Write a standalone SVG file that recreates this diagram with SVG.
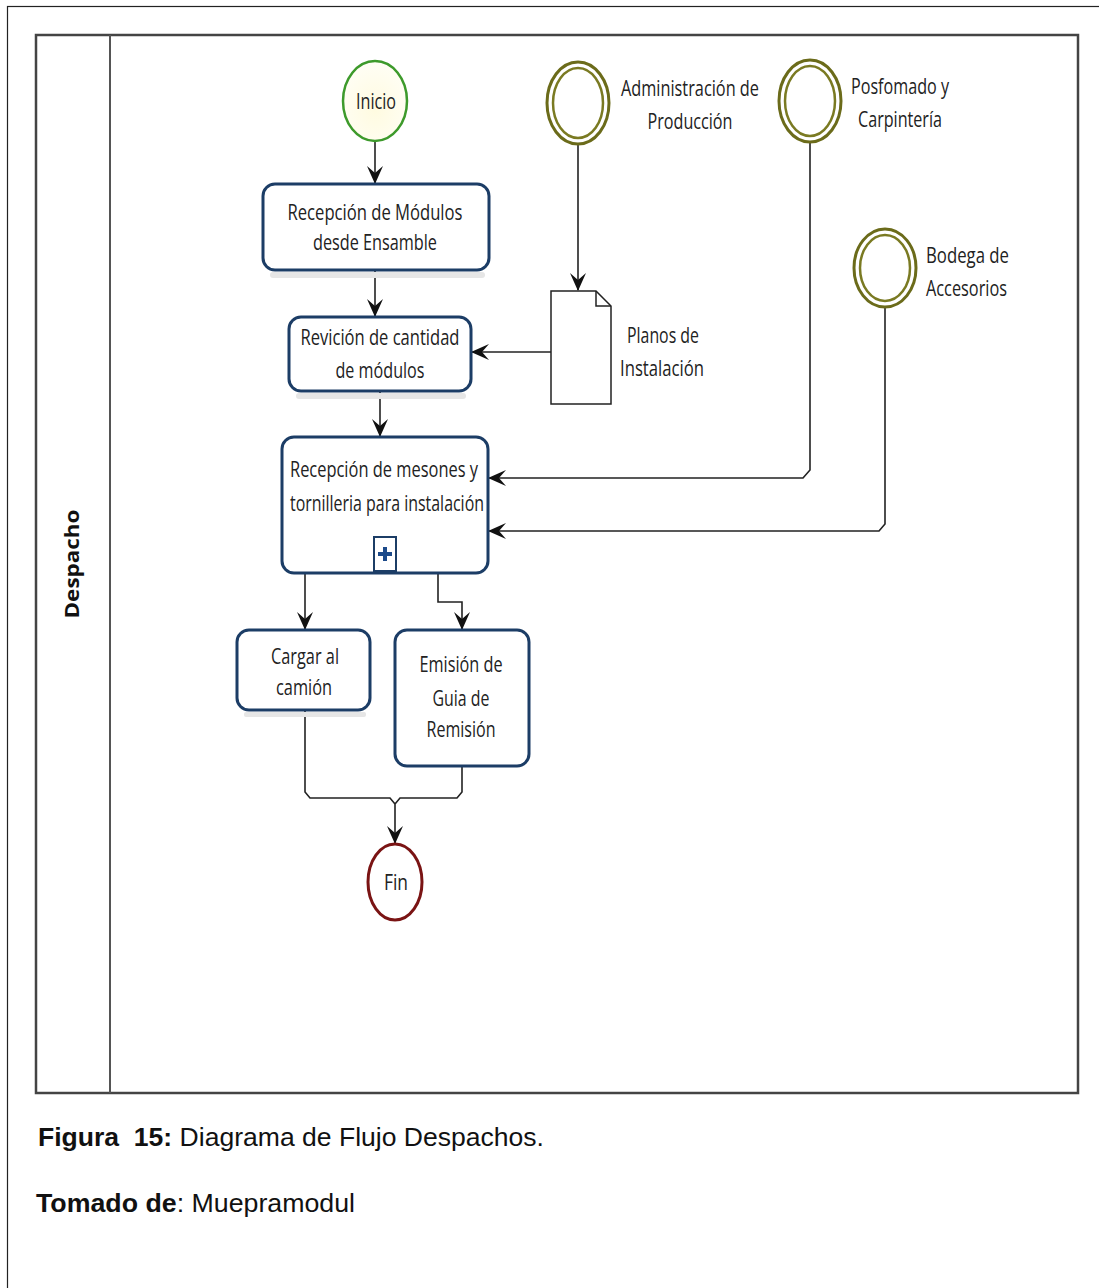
<svg xmlns="http://www.w3.org/2000/svg" width="1099" height="1288" viewBox="0 0 1099 1288">
<style>
.t{font-family:"Open Sans","DejaVu Sans",sans-serif;font-size:21px;fill:#222;text-anchor:middle}
.tl{font-family:"Open Sans","DejaVu Sans",sans-serif;font-size:21px;fill:#222}
.task{fill:#fff;stroke:#1c3d66;stroke-width:3}
.shadow{fill:#e6e6e6}
.ext{fill:#fff;stroke:#6b6b1a;stroke-width:3}
.ext2{fill:none;stroke:#7a7a22;stroke-width:2.5}
.conn{fill:none;stroke:#222;stroke-width:1.6}
.cap{font-family:"Liberation Sans",Arial,sans-serif;font-size:26px;fill:#111}
</style>
<defs>
<marker id="arr" viewBox="0 0 18 16" refX="17" refY="8" markerWidth="18" markerHeight="16" markerUnits="userSpaceOnUse" orient="auto">
<path d="M0,0 L18,8 L0,16 L7,8 Z" fill="#111"/>
</marker>
<radialGradient id="gy" cx="0.5" cy="0.6" r="0.6">
<stop offset="0" stop-color="#fffbe0"/><stop offset="1" stop-color="#fffef5"/>
</radialGradient>
</defs>
<rect x="0" y="0" width="1099" height="1288" fill="#fff"/>
<rect x="7.5" y="6.5" width="1095" height="1290" fill="none" stroke="#222" stroke-width="1.2"/>
<g id="lane">
<rect x="36" y="35" width="1042" height="1058" fill="#fff" stroke="#444" stroke-width="2.5"/>
<line x1="110" y1="35" x2="110" y2="1093" stroke="#555" stroke-width="2"/>
<text x="0" y="0" transform="translate(79,564) rotate(-90)" font-family="'Open Sans','DejaVu Sans',sans-serif" font-weight="bold" font-size="19" text-anchor="middle" fill="#111" textLength="109" lengthAdjust="spacingAndGlyphs">Despacho</text>
</g>
<g id="connectors">
<path class="conn" d="M375,141 V183" marker-end="url(#arr)"/>
<path class="conn" d="M375,271 V316" marker-end="url(#arr)"/>
<path class="conn" d="M380,392 V436" marker-end="url(#arr)"/>
<path class="conn" d="M578,144 V290" marker-end="url(#arr)"/>
<path class="conn" d="M551,352 H472" marker-end="url(#arr)"/>
<path class="conn" d="M810,142 V470 L803,478 H489" marker-end="url(#arr)"/>
<path class="conn" d="M885,307 V524 L879,531 H489" marker-end="url(#arr)"/>
<path class="conn" d="M305,574 V629" marker-end="url(#arr)"/>
<path class="conn" d="M438,574 V602 H462 V629" marker-end="url(#arr)"/>
<path class="conn" d="M305,711 V792 L310,798 H390 L395,804"/>
<path class="conn" d="M462,767 V792 L457,798 H400 L395,804 V843" marker-end="url(#arr)"/>
</g>
<g id="inicio">
<ellipse cx="375" cy="101" rx="32" ry="40" fill="url(#gy)" stroke="#3d9a2b" stroke-width="2.5"/>
<text class="t" x="376" y="109" textLength="40" lengthAdjust="spacingAndGlyphs">Inicio</text>
</g>
<g id="task1">
<rect class="shadow" x="270" y="272" width="215" height="6" rx="3"/>
<rect class="task" x="263" y="184" width="226" height="86" rx="12"/>
<text class="t" x="375" y="220" textLength="175" lengthAdjust="spacingAndGlyphs">Recepción de Módulos</text>
<text class="t" x="375" y="250" textLength="124" lengthAdjust="spacingAndGlyphs">desde Ensamble</text>
</g>
<g id="task2">
<rect class="shadow" x="296" y="393" width="170" height="6" rx="3"/>
<rect class="task" x="289" y="317" width="182" height="74" rx="12"/>
<text class="t" x="380" y="345" textLength="159" lengthAdjust="spacingAndGlyphs">Revición de cantidad</text>
<text class="t" x="380" y="378" textLength="89" lengthAdjust="spacingAndGlyphs">de módulos</text>
</g>
<g id="task3">
<rect class="task" x="282" y="437" width="206" height="136" rx="12"/>
<text class="t" x="384" y="477" textLength="188" lengthAdjust="spacingAndGlyphs">Recepción de mesones y</text>
<text class="t" x="387" y="511" textLength="194" lengthAdjust="spacingAndGlyphs">tornilleria  para instalación</text>
<rect x="374" y="537" width="22" height="34" fill="#fff" stroke="#1c3d66" stroke-width="2"/>
<path d="M385,547 V561 M378,554 H392" stroke="#1c4a8a" stroke-width="4"/>
</g>
<g id="cargar">
<rect class="shadow" x="244" y="712" width="122" height="5" rx="2"/>
<rect class="task" x="237" y="630" width="133" height="80" rx="12"/>
<text class="t" x="305" y="664" textLength="68" lengthAdjust="spacingAndGlyphs">Cargar al</text>
<text class="t" x="304" y="695" textLength="56" lengthAdjust="spacingAndGlyphs">camión</text>
</g>
<g id="emision">
<rect class="task" x="395" y="630" width="134" height="136" rx="12"/>
<text class="t" x="461" y="672" textLength="83" lengthAdjust="spacingAndGlyphs">Emisión de</text>
<text class="t" x="461" y="706" textLength="57" lengthAdjust="spacingAndGlyphs">Guia de</text>
<text class="t" x="461" y="737" textLength="69" lengthAdjust="spacingAndGlyphs">Remisión</text>
</g>
<g id="fin">
<ellipse cx="395" cy="882" rx="27" ry="38" fill="#fff" stroke="#7a1414" stroke-width="3"/>
<text class="t" x="396" y="890" textLength="24" lengthAdjust="spacingAndGlyphs">Fin</text>
</g>
<g id="admin">
<ellipse class="ext" cx="578" cy="103" rx="31" ry="41"/>
<ellipse class="ext2" cx="578" cy="103" rx="25" ry="35"/>
<text class="t" x="690" y="96" textLength="138" lengthAdjust="spacingAndGlyphs">Administración de</text>
<text class="t" x="690" y="129" textLength="85" lengthAdjust="spacingAndGlyphs">Producción</text>
</g>
<g id="posfomado">
<ellipse class="ext" cx="810" cy="101" rx="31" ry="41"/>
<ellipse class="ext2" cx="810" cy="101" rx="25" ry="35"/>
<text class="tl" x="851" y="94" textLength="98" lengthAdjust="spacingAndGlyphs">Posfomado y</text>
<text class="t" x="900" y="127" textLength="84" lengthAdjust="spacingAndGlyphs">Carpintería</text>
</g>
<g id="bodega">
<ellipse class="ext" cx="885" cy="268" rx="31" ry="39"/>
<ellipse class="ext2" cx="885" cy="268" rx="25" ry="33"/>
<text class="tl" x="926" y="263" textLength="83" lengthAdjust="spacingAndGlyphs">Bodega de</text>
<text class="tl" x="926" y="296" textLength="81" lengthAdjust="spacingAndGlyphs">Accesorios</text>
</g>
<g id="planos">
<path d="M551,291 H596 L611,306 V404 H551 Z" fill="#fff" stroke="#222" stroke-width="1.5"/>
<path d="M596,291 V306 H611" fill="none" stroke="#222" stroke-width="1.5"/>
<text class="t" x="663" y="343" textLength="72" lengthAdjust="spacingAndGlyphs">Planos de</text>
<text class="t" x="662" y="376" textLength="84" lengthAdjust="spacingAndGlyphs">Instalación</text>
</g>
<g id="caption">
<text class="cap" x="38" y="1146" xml:space="preserve" textLength="506" lengthAdjust="spacingAndGlyphs"><tspan font-weight="bold">Figura  15:</tspan> Diagrama de Flujo Despachos.</text>
<text class="cap" x="36" y="1212" textLength="319" lengthAdjust="spacingAndGlyphs"><tspan font-weight="bold">Tomado de</tspan>: Muepramodul</text>
</g>
</svg>
